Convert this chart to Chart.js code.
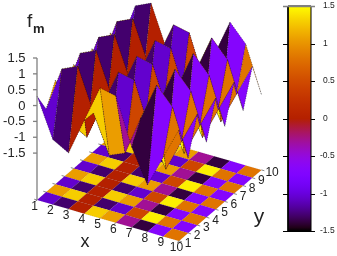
<!DOCTYPE html>
<html><head><meta charset="utf-8">
<style>html,body{margin:0;padding:0;background:#fff;overflow:hidden}canvas{display:block}</style>
<script src="https://cdn.jsdelivr.net/npm/chart.js@4"></script></head>
<body><canvas id="c" width="337" height="256"></canvas>
<script>
const xTicks=[1,2,3,4,5,6,7,8,9,10];
const yTicks=[1,2,3,4,5,6,7,8,9,10];
const zTicks=[1.5,1,0.5,0,-0.5,-1,-1.5];
const cbTicks=[1.5,1,0.5,0,-0.5,-1,-1.5];
// surface heights along x, for odd and even y rows
const heightsA=[0.33,-0.90,-1.18,0.00,1.16,1.05,-0.42,-1.47,-0.45,0.56];
const heightsB=[-0.33,1.08,1.31,-0.02,-1.21,-1.00,0.25,1.43,0.88,-0.58];
// colour values of the cells along x, for odd and even y rows
const colourA=[-1.05,-1.29,0.00,1.29,1.05,-0.30,-1.38,-0.69,0.81];
const colourB=[1.05,1.29,0.00,-1.29,-1.05,0.45,1.44,0.81,-0.69];
const heightRows=[heightsA,heightsB,heightsA,heightsB,heightsA,heightsB,heightsA,heightsB,heightsA,heightsB];
const colourRows=[colourA,colourB,colourA,colourB,colourA,colourB,colourA,colourB,colourA];

const ZBASE=-2.95, ORG=[37,200], XV=[15.78,4.55], YV=[9.17,-7.89], ZS=31.7;
const project=(x,y,z)=>({x:ORG[0]+(x-1)*XV[0]+(y-1)*YV[0], y:ORG[1]+(x-1)*XV[1]+(y-1)*YV[1]-(z-ZBASE)*ZS});
function palette(v){const t=Math.max(0,Math.min(1,(v+1.5)/3));
 const r=Math.sqrt(t),g=t*t*t,b=Math.max(0,Math.sin(2*Math.PI*t));
 return `rgb(${Math.round(r*255)},${Math.round(g*255)},${Math.round(b*255)})`;}

const shape=(pts,fillCol,edge,dash,w)=>({data:pts.concat([pts[0]]),showLine:true,tension:0,pointRadius:0,
 fill:'shape',backgroundColor:fillCol,borderColor:edge,borderWidth:w,borderDash:dash,xAxisID:'x',yAxisID:'y'});
const seg=(a,b,col,w)=>({data:[a,b],showLine:true,pointRadius:0,fill:false,borderColor:col,borderWidth:w,xAxisID:'x',yAxisID:'y'});

const ds=[];
for(let s=8;s>=0;s--)for(let t=0;t<9;t++){
 const X=xTicks[t],Y=yTicks[s];
 ds.push(shape([project(X,Y,ZBASE),project(X+1,Y,ZBASE),project(X+1,Y+1,ZBASE),project(X,Y+1,ZBASE)],palette(colourRows[s][t]),'rgba(0,0,0,0.18)',[1,1],0.5));
}
xTicks.forEach(X=>ds.push(seg(project(X,1,ZBASE),project(X,0.78,ZBASE),'#555',0.7)));
yTicks.forEach(Y=>{ds.push(seg(project(10,Y,ZBASE),project(10.18,Y,ZBASE),'#555',0.7));
 ds.push(seg(project(1,Y,ZBASE),project(0.82,Y,ZBASE),'#555',0.7));});
for(let s=8;s>=0;s--)for(let t=0;t<9;t++){
 const X=xTicks[t],Y=yTicks[s],h0=heightRows[s],h1=heightRows[s+1];
 ds.push(shape([project(X,Y,h0[t]),project(X+1,Y,h0[t+1]),project(X+1,Y+1,h1[t+1]),project(X,Y+1,h1[t])],palette(colourRows[s][t]),'rgba(0,0,0,0.7)',[1,1.5],0.6));
}
const CB_MIN=-1.5-25/75, CB_MAX=1.5+6/75;
const canvas=document.getElementById('c');
const cbPx=v=>256*(CB_MAX-v)/(CB_MAX-CB_MIN);
const cbGrad=canvas.getContext('2d').createLinearGradient(0,cbPx(-1.5),0,cbPx(1.5));
for(let i=0;i<=64;i++)cbGrad.addColorStop(i/64,palette(-1.5+3*i/64));
ds.push({data:[{x:288,y:-1.5},{x:311,y:-1.5},{x:311,y:1.5},{x:288,y:1.5},{x:288,y:-1.5}],showLine:true,pointRadius:0,tension:0,fill:'shape',
 xAxisID:'x',yAxisID:'cb',borderColor:'#000',borderWidth:1,backgroundColor:cbGrad});
ds.reverse();

const labels={id:'labels',afterDraw(ch){
 const c=ch.ctx,zs=ch.scales.z,cs=ch.scales.cb;
 const px=(p)=>({x:ch.scales.x.getPixelForValue(p.x),y:ch.scales.y.getPixelForValue(p.y)});
 c.save();c.textBaseline='middle';
 c.strokeStyle='#808080';c.lineWidth=1.3;c.beginPath();c.moveTo(37,zs.getPixelForValue(1.5));c.lineTo(37,ORG[1]);c.stroke();
 c.fillStyle='#222';c.font='13px "Liberation Sans"';c.textAlign='right';
 zTicks.forEach(v=>{const y=zs.getPixelForValue(v);c.beginPath();c.moveTo(33,y);c.lineTo(37,y);c.stroke();c.fillText(String(v),25.5,y+0.5);});
 c.font='12px "Liberation Sans"';c.textAlign='center';
 xTicks.forEach(X=>{const p=px(project(X,1,ZBASE));c.fillText(String(X),p.x-2.5,p.y+6.5);});
 yTicks.forEach(Y=>{const p=px(project(10,Y,ZBASE));c.fillText(String(Y),p.x+(Y==10?10.5:9),p.y+3);});
 c.font='18px "Liberation Sans"';c.fillText('x',85,242);
 c.font='21px "Liberation Sans"';c.fillText('y',259,217);
 c.textAlign='left';c.font='19px "Liberation Sans"';c.fillText('f',27,22);
 c.font='bold 13px "Liberation Sans"';c.fillText('m',33,29.5);
 c.strokeStyle='#000';c.lineWidth=1;c.fillStyle='#222';c.font='8.5px "Liberation Sans"';
 cbTicks.forEach(v=>{const y=Math.round(cs.getPixelForValue(v))+0.5;
  c.strokeStyle=v===1.5?'#808080':'#000';c.lineWidth=v===1.5?1.4:1;
  c.beginPath();c.moveTo(283,y);c.lineTo(v===1.5||v===-1.5?315:288,y);
  c.moveTo(311,y);c.lineTo(315,y);c.stroke();
  c.fillText(String(v),v<0?320:323,y-0.5);});
 c.restore();
}};
new Chart(canvas,{type:'scatter',data:{datasets:ds},plugins:[labels],options:{
 responsive:false,animation:false,layout:{padding:0},
 plugins:{legend:{display:false},tooltip:{enabled:false},filler:{drawTime:'beforeDatasetDraw',propagate:false}},
 scales:{
  x:{type:'linear',axis:'x',min:0,max:337,display:false},
  y:{type:'linear',axis:'y',min:0,max:256,reverse:true,display:false},
  z:{type:'linear',axis:'y',min:1.5-198/31.7,max:1.5+58/31.7,display:false},
  cb:{type:'linear',axis:'y',min:CB_MIN,max:CB_MAX,display:false}
 }}});
</script></body></html>
